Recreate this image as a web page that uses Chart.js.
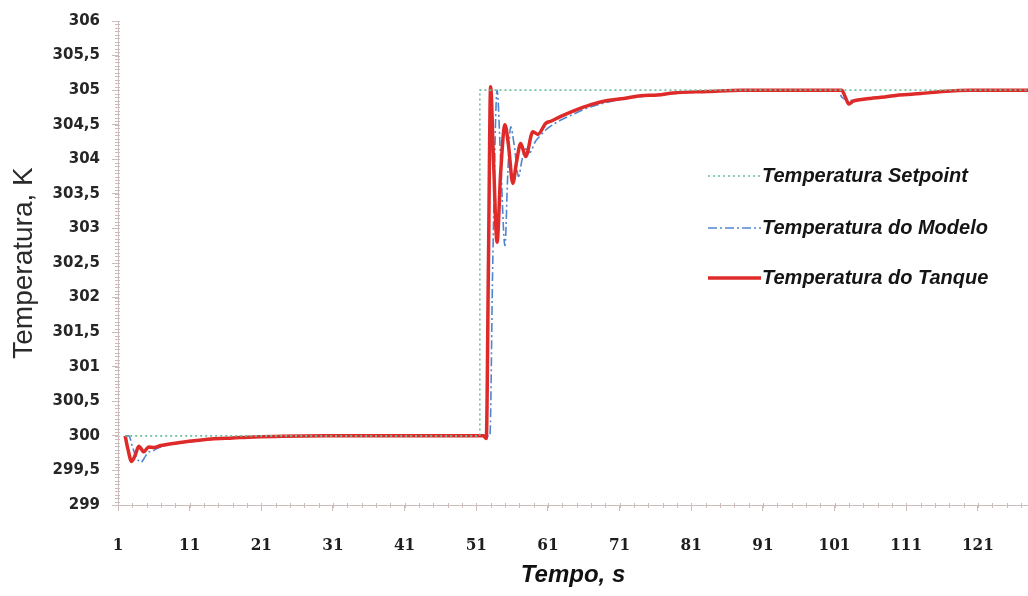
<!DOCTYPE html>
<html><head><meta charset="utf-8">
<script src="https://cdn.jsdelivr.net/npm/chart.js@4"></script>
<style>html,body{margin:0;padding:0;background:#fff;} canvas{display:block;}</style>
</head><body>
<canvas id="c" width="1028" height="596"></canvas>
<script>
// ---- data ----
const tempoSetpoint = [2, 51.5, 51.5, 128];
const tempSetpoint  = [300, 300, 305, 305];

const tempoModelo = [2, 2.5, 3, 3.5, 4.2, 4.8, 5.2, 5.8, 6.5, 7.5, 9, 11.6, 14, 17, 20, 24, 30, 52.5, 52.9, 53.3, 53.9, 54.4, 55, 55.4, 55.8, 56.3, 56.9, 57.4, 57.9, 58.5, 59.2, 60, 61, 62.5, 64.5, 67, 69.5, 72, 75, 78.5, 83, 88, 101.5, 102, 102.6, 103.2, 104, 106, 108, 110, 113, 116, 120, 128];
const tempModelo  = [300, 300, 299.85, 299.7, 299.62, 299.7, 299.76, 299.78, 299.82, 299.86, 299.89, 299.92, 299.95, 299.97, 299.98, 299.995, 300, 300, 300, 302.5, 305, 304, 302.75, 303.8, 304.47, 304.2, 303.75, 304.0, 304.15, 304.1, 304.25, 304.35, 304.45, 304.55, 304.65, 304.76, 304.83, 304.88, 304.92, 304.95, 304.98, 305, 305, 304.9, 304.86, 304.85, 304.86, 304.88, 304.9, 304.93, 304.95, 304.98, 305, 305];

const tempoTanque = [2, 2.4, 2.9, 3.4, 3.9, 4.6, 5.3, 6, 7, 8, 9.4, 11.6, 14, 17, 20, 24, 30, 50, 52, 52.4, 52.7, 53.0, 53.4, 53.9, 54.4, 55, 55.5, 56.1, 56.6, 57.2, 57.9, 58.9, 59.6, 60.7, 61.4, 62.8, 64.6, 67, 69.3, 71.6, 74, 76.3, 78.5, 83.3, 88, 102, 102.5, 103, 103.6, 104.5, 106, 108, 110, 113, 116, 120, 128];
const tempTanque  = [300, 299.8, 299.63, 299.72, 299.85, 299.77, 299.84, 299.83, 299.86, 299.88, 299.9, 299.93, 299.955, 299.97, 299.985, 299.995, 300, 300, 300, 299.96, 302.5, 305.05, 304, 302.8, 303.8, 304.5, 304.2, 303.65, 303.95, 304.23, 304.04, 304.4, 304.36, 304.52, 304.55, 304.62, 304.7, 304.79, 304.85, 304.88, 304.92, 304.93, 304.96, 304.98, 305, 305, 304.9, 304.8, 304.84, 304.86, 304.88, 304.9, 304.93, 304.95, 304.98, 305, 305];

const xTickValues = [1, 11, 21, 31, 41, 51, 61, 71, 81, 91, 101, 111, 121];
const seriesLabels = ['Temperatura Setpoint', 'Temperatura do Modelo', 'Temperatura do Tanque'];
const axisTitleX = 'Tempo, s';
const axisTitleY = 'Temperatura, K';

const toPts = (xs, ys) => xs.map((x, i) => ({x: x, y: ys[i]}));

const axisColor = '#cdbcbc';

const minorTicks = {
  id: 'minorTicks',
  afterDraw(chart) {
    const ctx = chart.ctx, xs = chart.scales.x, ys = chart.scales.y;
    const ca = chart.chartArea;
    ctx.save();
    ctx.strokeStyle = axisColor; ctx.lineWidth = 1;
    ctx.beginPath();
    for (let v = 299; v <= 306.0001; v += 0.05) {
      const p = Math.round(ys.getPixelForValue(v)) + 0.5;
      ctx.moveTo(ca.left - 3, p); ctx.lineTo(ca.left + 2, p);
    }
    for (let v = 1; v <= 128; v += 2) {
      const p = Math.round(xs.getPixelForValue(v)) + 0.5;
      ctx.moveTo(p, ca.bottom - 2); ctx.lineTo(p, ca.bottom + 3);
    }
    ctx.stroke();
    ctx.restore();
  }
};

const insideLegend = {
  id: 'insideLegend',
  afterDraw(chart) {
    const ctx = chart.ctx;
    const ds = chart.data.datasets;
    const rows = [176, 228, 278];
    ctx.save();
    ds.forEach((d, i) => {
      ctx.strokeStyle = d.borderColor;
      ctx.lineWidth = d.borderWidth;
      ctx.setLineDash(d.borderDash || []);
      ctx.beginPath(); ctx.moveTo(708, rows[i]); ctx.lineTo(761, rows[i]); ctx.stroke();
      ctx.setLineDash([]);
      ctx.fillStyle = '#151515';
      ctx.font = 'italic bold 20px "Liberation Sans", Arial, sans-serif';
      ctx.textBaseline = 'middle'; ctx.textAlign = 'left';
      ctx.fillText(d.label, 762, rows[i]);
    });
    ctx.restore();
  }
};

new Chart(document.getElementById('c'), {
  type: 'line',
  data: {
    datasets: [
      { label: seriesLabels[0], data: toPts(tempoSetpoint, tempSetpoint), borderColor: '#6fbfa0', borderWidth: 1.6, borderDash: [2, 3], pointRadius: 0, tension: 0, order: 0 },
      { label: seriesLabels[1], data: toPts(tempoModelo, tempModelo), borderColor: '#4f86d0', borderWidth: 1.6, borderDash: [9, 3, 2, 3], pointRadius: 0, cubicInterpolationMode: 'monotone', order: 2 },
      { label: seriesLabels[2], data: toPts(tempoTanque, tempTanque), borderColor: '#df2a2a', borderWidth: 3.5, pointRadius: 0, cubicInterpolationMode: 'monotone', order: 1 }
    ]
  },
  options: {
    responsive: false,
    devicePixelRatio: 1,
    animation: false,
    layout: { padding: { top: 19, right: 0, bottom: 0, left: 0 } },
    plugins: { legend: { display: false }, tooltip: { enabled: false } },
    scales: {
      x: {
        type: 'linear', min: 1, max: 128,
        afterBuildTicks: s => { s.ticks = xTickValues.map(v => ({value: v})); },
        afterFit: s => { s.height = 91; },
        grid: { drawOnChartArea: false, tickLength: 6, color: axisColor },
        border: { color: axisColor, width: 1 },
        ticks: { padding: 24, maxRotation: 0, autoSkip: false, color: '#1e1e1e',
                 font: { family: '"DejaVu Serif Condensed", "DejaVu Serif", serif', weight: 'bold', size: 17 } },
        title: { display: true, text: axisTitleX, color: '#111', padding: { top: 0, bottom: 6 },
                 font: { family: '"Liberation Sans", Arial, sans-serif', weight: 'bold', style: 'italic', size: 24 } }
      },
      y: {
        type: 'linear', min: 299, max: 306,
        ticks: { stepSize: 0.5, padding: 12, color: '#262626',
                 callback: v => String(v).replace('.', ','),
                 font: { family: '"DejaVu Sans", sans-serif', weight: 'bold', size: 15 } },
        afterFit: s => { s.width = 118; },
        grid: { drawOnChartArea: false, tickLength: 6, color: axisColor },
        border: { color: axisColor, width: 1 },
        title: { display: true, text: axisTitleY, color: '#2a2a2a', padding: { top: 7, bottom: 0 },
                 font: { family: '"Liberation Sans", Arial, sans-serif', size: 28 } }
      }
    }
  },
  plugins: [minorTicks, insideLegend]
});
</script>
</body></html>
